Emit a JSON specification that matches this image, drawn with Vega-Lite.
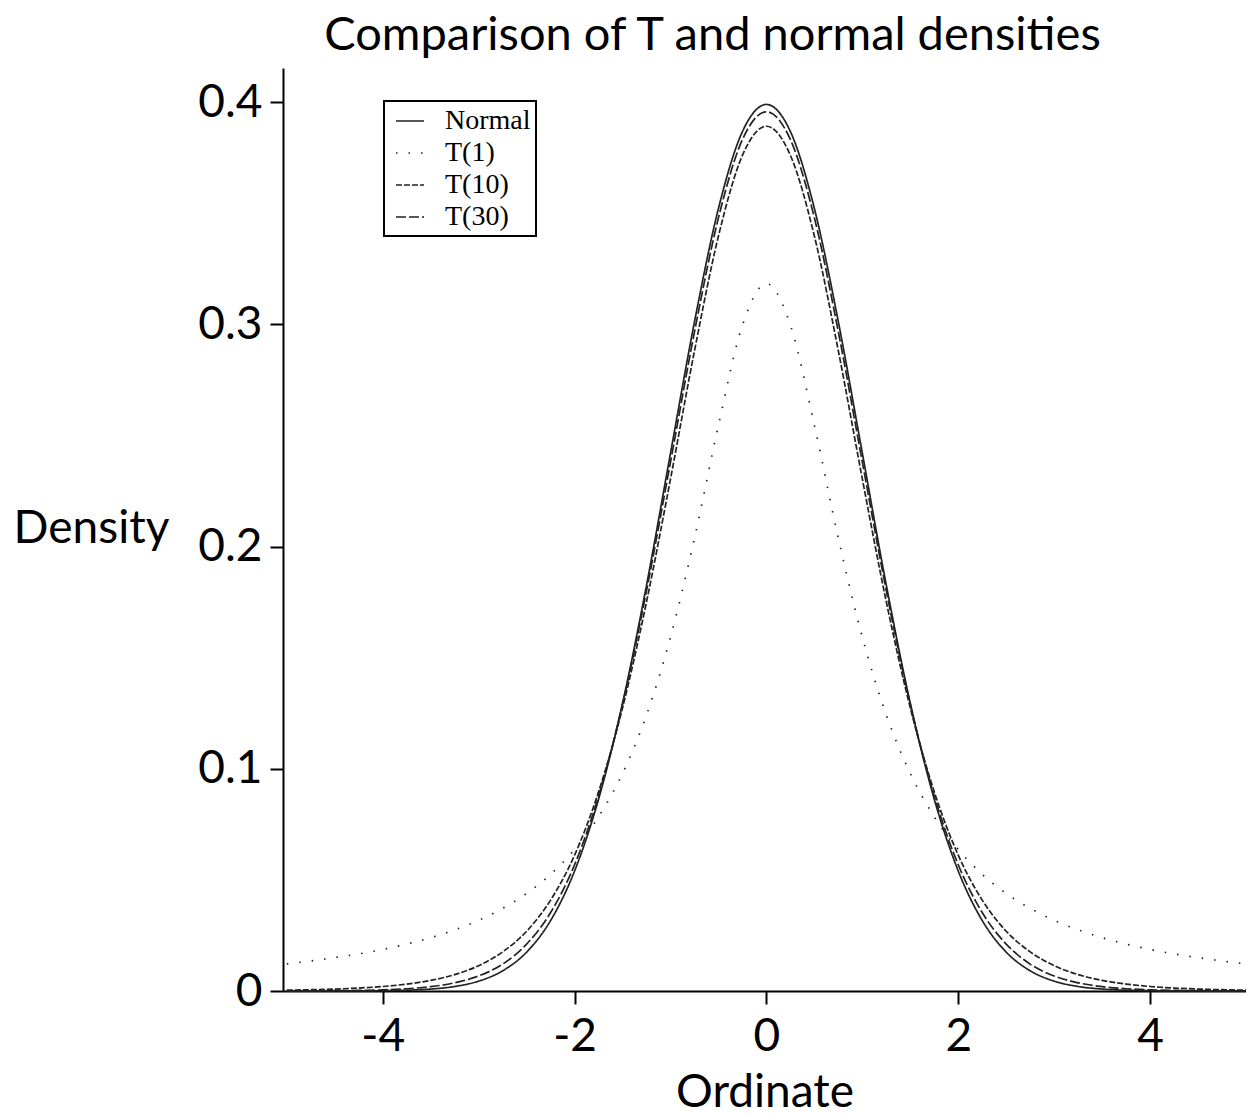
{
  "$schema": "https://vega.github.io/schema/vega-lite/v6.json",
  "autosize": "none",
  "width": 963,
  "height": 923,
  "padding": {"left": 283, "top": 68, "right": 0, "bottom": 124},
  "background": "white",
  "title": {
    "text": "Comparison of T and normal densities",
    "font": "Lato",
    "fontSize": 47,
    "fontWeight": "normal",
    "color": "black",
    "anchor": "middle",
    "frame": "group",
    "baseline": "alphabetic",
    "offset": -29,
    "dx": -52
  },
  "config": {
    "view": {"stroke": null},
    "axis": {
      "grid": false,
      "domainColor": "black",
      "domainWidth": 2,
      "tickColor": "black",
      "tickWidth": 2,
      "tickSize": 13,
      "labelFont": "Lato",
      "labelFontSize": 46,
      "labelColor": "black",
      "titleFont": "Lato",
      "titleFontSize": 46,
      "titleFontWeight": "normal",
      "titleColor": "black"
    }
  },
  "data": {
    "values": [
      {"x": -5, "s": "Normal", "d": 0.0000015}, {"x": -4.75, "s": "Normal", "d": 0.000005}, {"x": -4.5, "s": "Normal", "d": 0.000016}, {"x": -4.25, "s": "Normal", "d": 0.0000477}, {"x": -4, "s": "Normal", "d": 0.000134}, {"x": -3.75, "s": "Normal", "d": 0.000353}, {"x": -3.5, "s": "Normal", "d": 0.000873}, {"x": -3.25, "s": "Normal", "d": 0.00203}, {"x": -3, "s": "Normal", "d": 0.00443}, {"x": -2.75, "s": "Normal", "d": 0.00909}, {"x": -2.5, "s": "Normal", "d": 0.0175}, {"x": -2.25, "s": "Normal", "d": 0.0317}, {"x": -2, "s": "Normal", "d": 0.054}, {"x": -1.75, "s": "Normal", "d": 0.0863}, {"x": -1.5, "s": "Normal", "d": 0.1295}, {"x": -1.25, "s": "Normal", "d": 0.1826}, {"x": -1, "s": "Normal", "d": 0.242}, {"x": -0.75, "s": "Normal", "d": 0.3011}, {"x": -0.5, "s": "Normal", "d": 0.3521}, {"x": -0.25, "s": "Normal", "d": 0.3867}, {"x": 0, "s": "Normal", "d": 0.3989}, {"x": 0.25, "s": "Normal", "d": 0.3867}, {"x": 0.5, "s": "Normal", "d": 0.3521}, {"x": 0.75, "s": "Normal", "d": 0.3011}, {"x": 1, "s": "Normal", "d": 0.242}, {"x": 1.25, "s": "Normal", "d": 0.1826}, {"x": 1.5, "s": "Normal", "d": 0.1295}, {"x": 1.75, "s": "Normal", "d": 0.0863}, {"x": 2, "s": "Normal", "d": 0.054}, {"x": 2.25, "s": "Normal", "d": 0.0317}, {"x": 2.5, "s": "Normal", "d": 0.0175}, {"x": 2.75, "s": "Normal", "d": 0.00909}, {"x": 3, "s": "Normal", "d": 0.00443}, {"x": 3.25, "s": "Normal", "d": 0.00203}, {"x": 3.5, "s": "Normal", "d": 0.000873}, {"x": 3.75, "s": "Normal", "d": 0.000353}, {"x": 4, "s": "Normal", "d": 0.000134}, {"x": 4.25, "s": "Normal", "d": 0.0000477}, {"x": 4.5, "s": "Normal", "d": 0.000016}, {"x": 4.75, "s": "Normal", "d": 0.000005}, {"x": 5, "s": "Normal", "d": 0.0000015},
      {"x": -5, "s": "T(1)", "d": 0.0122}, {"x": -4.75, "s": "T(1)", "d": 0.0135}, {"x": -4.5, "s": "T(1)", "d": 0.015}, {"x": -4.25, "s": "T(1)", "d": 0.0167}, {"x": -4, "s": "T(1)", "d": 0.0187}, {"x": -3.75, "s": "T(1)", "d": 0.0211}, {"x": -3.5, "s": "T(1)", "d": 0.024}, {"x": -3.25, "s": "T(1)", "d": 0.0275}, {"x": -3, "s": "T(1)", "d": 0.0318}, {"x": -2.75, "s": "T(1)", "d": 0.0372}, {"x": -2.5, "s": "T(1)", "d": 0.0439}, {"x": -2.25, "s": "T(1)", "d": 0.0525}, {"x": -2, "s": "T(1)", "d": 0.0637}, {"x": -1.75, "s": "T(1)", "d": 0.0784}, {"x": -1.5, "s": "T(1)", "d": 0.0979}, {"x": -1.25, "s": "T(1)", "d": 0.1242}, {"x": -1, "s": "T(1)", "d": 0.1592}, {"x": -0.75, "s": "T(1)", "d": 0.2037}, {"x": -0.5, "s": "T(1)", "d": 0.2546}, {"x": -0.25, "s": "T(1)", "d": 0.2996}, {"x": 0, "s": "T(1)", "d": 0.3183}, {"x": 0.25, "s": "T(1)", "d": 0.2996}, {"x": 0.5, "s": "T(1)", "d": 0.2546}, {"x": 0.75, "s": "T(1)", "d": 0.2037}, {"x": 1, "s": "T(1)", "d": 0.1592}, {"x": 1.25, "s": "T(1)", "d": 0.1242}, {"x": 1.5, "s": "T(1)", "d": 0.0979}, {"x": 1.75, "s": "T(1)", "d": 0.0784}, {"x": 2, "s": "T(1)", "d": 0.0637}, {"x": 2.25, "s": "T(1)", "d": 0.0525}, {"x": 2.5, "s": "T(1)", "d": 0.0439}, {"x": 2.75, "s": "T(1)", "d": 0.0372}, {"x": 3, "s": "T(1)", "d": 0.0318}, {"x": 3.25, "s": "T(1)", "d": 0.0275}, {"x": 3.5, "s": "T(1)", "d": 0.024}, {"x": 3.75, "s": "T(1)", "d": 0.0211}, {"x": 4, "s": "T(1)", "d": 0.0187}, {"x": 4.25, "s": "T(1)", "d": 0.0167}, {"x": 4.5, "s": "T(1)", "d": 0.015}, {"x": 4.75, "s": "T(1)", "d": 0.0135}, {"x": 5, "s": "T(1)", "d": 0.0122},
      {"x": -5, "s": "T(10)", "d": 0.000396}, {"x": -4.75, "s": "T(10)", "d": 0.000589}, {"x": -4.5, "s": "T(10)", "d": 0.000883}, {"x": -4.25, "s": "T(10)", "d": 0.00133}, {"x": -4, "s": "T(10)", "d": 0.00203}, {"x": -3.75, "s": "T(10)", "d": 0.00311}, {"x": -3.5, "s": "T(10)", "d": 0.00478}, {"x": -3.25, "s": "T(10)", "d": 0.00738}, {"x": -3, "s": "T(10)", "d": 0.0114}, {"x": -2.75, "s": "T(10)", "d": 0.0176}, {"x": -2.5, "s": "T(10)", "d": 0.0269}, {"x": -2.25, "s": "T(10)", "d": 0.0409}, {"x": -2, "s": "T(10)", "d": 0.0611}, {"x": -1.75, "s": "T(10)", "d": 0.0896}, {"x": -1.5, "s": "T(10)", "d": 0.1274}, {"x": -1.25, "s": "T(10)", "d": 0.1751}, {"x": -1, "s": "T(10)", "d": 0.2304}, {"x": -0.75, "s": "T(10)", "d": 0.288}, {"x": -0.5, "s": "T(10)", "d": 0.3397}, {"x": -0.25, "s": "T(10)", "d": 0.376}, {"x": 0, "s": "T(10)", "d": 0.3891}, {"x": 0.25, "s": "T(10)", "d": 0.376}, {"x": 0.5, "s": "T(10)", "d": 0.3397}, {"x": 0.75, "s": "T(10)", "d": 0.288}, {"x": 1, "s": "T(10)", "d": 0.2304}, {"x": 1.25, "s": "T(10)", "d": 0.1751}, {"x": 1.5, "s": "T(10)", "d": 0.1274}, {"x": 1.75, "s": "T(10)", "d": 0.0896}, {"x": 2, "s": "T(10)", "d": 0.0611}, {"x": 2.25, "s": "T(10)", "d": 0.0409}, {"x": 2.5, "s": "T(10)", "d": 0.0269}, {"x": 2.75, "s": "T(10)", "d": 0.0176}, {"x": 3, "s": "T(10)", "d": 0.0114}, {"x": 3.25, "s": "T(10)", "d": 0.00738}, {"x": 3.5, "s": "T(10)", "d": 0.00478}, {"x": 3.75, "s": "T(10)", "d": 0.00311}, {"x": 4, "s": "T(10)", "d": 0.00203}, {"x": 4.25, "s": "T(10)", "d": 0.00133}, {"x": 4.5, "s": "T(10)", "d": 0.000883}, {"x": 4.75, "s": "T(10)", "d": 0.000589}, {"x": 5, "s": "T(10)", "d": 0.000396},
      {"x": -5, "s": "T(30)", "d": 0.0000328}, {"x": -4.75, "s": "T(30)", "d": 0.0000664}, {"x": -4.5, "s": "T(30)", "d": 0.000133}, {"x": -4.25, "s": "T(30)", "d": 0.000266}, {"x": -4, "s": "T(30)", "d": 0.000525}, {"x": -3.75, "s": "T(30)", "d": 0.00102}, {"x": -3.5, "s": "T(30)", "d": 0.00196}, {"x": -3.25, "s": "T(30)", "d": 0.00369}, {"x": -3, "s": "T(30)", "d": 0.00678}, {"x": -2.75, "s": "T(30)", "d": 0.0121}, {"x": -2.5, "s": "T(30)", "d": 0.0211}, {"x": -2.25, "s": "T(30)", "d": 0.0353}, {"x": -2, "s": "T(30)", "d": 0.0568}, {"x": -1.75, "s": "T(30)", "d": 0.0877}, {"x": -1.5, "s": "T(30)", "d": 0.129}, {"x": -1.25, "s": "T(30)", "d": 0.1801}, {"x": -1, "s": "T(30)", "d": 0.238}, {"x": -0.75, "s": "T(30)", "d": 0.2966}, {"x": -0.5, "s": "T(30)", "d": 0.3479}, {"x": -0.25, "s": "T(30)", "d": 0.3831}, {"x": 0, "s": "T(30)", "d": 0.3956}, {"x": 0.25, "s": "T(30)", "d": 0.3831}, {"x": 0.5, "s": "T(30)", "d": 0.3479}, {"x": 0.75, "s": "T(30)", "d": 0.2966}, {"x": 1, "s": "T(30)", "d": 0.238}, {"x": 1.25, "s": "T(30)", "d": 0.1801}, {"x": 1.5, "s": "T(30)", "d": 0.129}, {"x": 1.75, "s": "T(30)", "d": 0.0877}, {"x": 2, "s": "T(30)", "d": 0.0568}, {"x": 2.25, "s": "T(30)", "d": 0.0353}, {"x": 2.5, "s": "T(30)", "d": 0.0211}, {"x": 2.75, "s": "T(30)", "d": 0.0121}, {"x": 3, "s": "T(30)", "d": 0.00678}, {"x": 3.25, "s": "T(30)", "d": 0.00369}, {"x": 3.5, "s": "T(30)", "d": 0.00196}, {"x": 3.75, "s": "T(30)", "d": 0.00102}, {"x": 4, "s": "T(30)", "d": 0.000525}, {"x": 4.25, "s": "T(30)", "d": 0.000266}, {"x": 4.5, "s": "T(30)", "d": 0.000133}, {"x": 4.75, "s": "T(30)", "d": 0.0000664}, {"x": 5, "s": "T(30)", "d": 0.0000328}
    ]
  },
  "mark": {"type": "line", "color": "#222222", "strokeWidth": 1.7, "interpolate": "monotone"},
  "encoding": {
    "x": {
      "field": "x",
      "type": "quantitative",
      "scale": {"domain": [-5.04, 5], "nice": false, "zero": false},
      "axis": {
        "title": "Ordinate",
        "values": [-4, -2, 0, 2, 4],
        "labelExpr": "'' + datum.value",
        "labelBaseline": "alphabetic",
        "labelPadding": 46,
        "titleBaseline": "alphabetic",
        "titleY": 115
      }
    },
    "y": {
      "field": "d",
      "type": "quantitative",
      "scale": {"domain": [0, 0.4153], "nice": false},
      "axis": {
        "title": "Density",
        "values": [0, 0.1, 0.2, 0.3, 0.4],
        "labelExpr": "datum.value == 0 ? '0' : format(datum.value, '.1f')",
        "labelPadding": 8,
        "titleAngle": 0,
        "titleAlign": "center",
        "titleBaseline": "middle",
        "titleX": -192,
        "titleY": 460
      }
    },
    "strokeDash": {
      "field": "s",
      "type": "nominal",
      "scale": {
        "domain": ["Normal", "T(1)", "T(10)", "T(30)"],
        "range": [[1, 0], [1.5, 11], [6, 2], [10, 3]]
      },
      "legend": {
        "title": null,
        "orient": "none",
        "legendX": 101,
        "legendY": 33,
        "labelFont": "Liberation Serif",
        "labelFontSize": 28,
        "labelColor": "black",
        "labelOffset": 20,
        "labelExpr": "datum.label + '\u00a0\u00a0'",
        "symbolType": "stroke",
        "symbolSize": 784,
        "symbolOffset": 6,
        "symbolStrokeColor": "#222222",
        "symbolStrokeWidth": 1.5,
        "rowPadding": 3,
        "padding": 5,
        "strokeColor": "black",
        "fillColor": "white",
        "encode": {"legend": {"update": {"strokeWidth": {"value": 2}}}}
      }
    }
  }
}
